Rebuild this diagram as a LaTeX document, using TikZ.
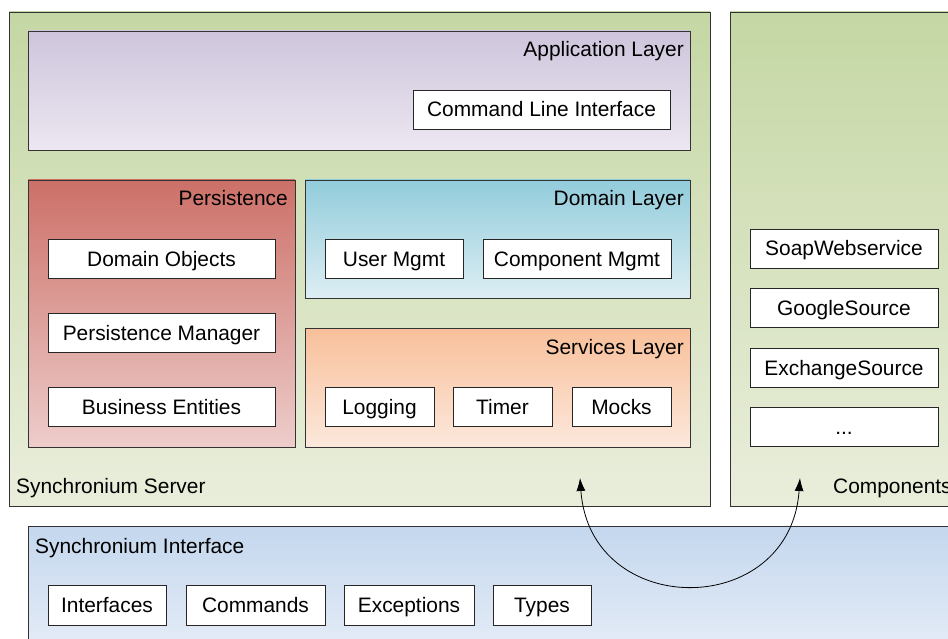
\documentclass[tikz,border=0pt]{standalone}
\usepackage{fontspec}
\setmainfont{Liberation Sans}
\usetikzlibrary{arrows.meta}

\definecolor{grnTop}{HTML}{C5D7A4}
\definecolor{grnBot}{HTML}{E9EEDB}
\definecolor{purTop}{HTML}{CEC5DC}
\definecolor{purBot}{HTML}{ECE7F1}
\definecolor{redTop}{HTML}{CC7068}
\definecolor{redBot}{HTML}{EDCDCB}
\definecolor{cyaTop}{HTML}{92CCDB}
\definecolor{cyaBot}{HTML}{DDEEF4}
\definecolor{orgTop}{HTML}{F8C09A}
\definecolor{orgBot}{HTML}{FCE8DC}
\definecolor{bluTop}{HTML}{C4D7EE}
\definecolor{bluBot}{HTML}{E9EFF8}

\begin{document}
\begin{tikzpicture}[x=1pt, y=-1pt,
  every node/.style={font=\fontsize{20.9}{24}\selectfont},
  panel/.style={draw=black!80, line width=0.9pt, anchor=north west,
    inner sep=0pt, outer sep=0pt},
  item/.style={draw=black!85, fill=white, line width=0.9pt, anchor=north west,
    inner sep=0pt, outer sep=0pt, minimum height=39pt,
    text height=17pt, text depth=2pt},
  title/.style={anchor=base east, inner sep=0pt},
  caption/.style={anchor=base west, inner sep=0pt},
  link/.style={line width=0.8pt, {Latex[length=13pt,width=9pt]}-{Latex[length=13pt,width=9pt]}}
]
\clip (0,0) rectangle (948,639);
\fill[white] (0,0) rectangle (948,639);

% outer containers
\node[panel, top color=grnTop, bottom color=grnBot, minimum width=701pt, minimum height=494pt] (server) at (9,12) {};
\node[panel, top color=grnTop, bottom color=grnBot, minimum width=240pt, minimum height=494pt] (comps) at (730,12) {};
\node[panel, top color=bluTop, bottom color=bluBot, minimum width=940pt, minimum height=140pt] (iface) at (28,526) {};

% application layer
\node[panel, top color=purTop, bottom color=purBot, minimum width=662pt, minimum height=119pt] (app) at (28,31) {};
\node[title] (appT) at (684,57) {Application Layer};
\node[item, minimum width=257pt] (cli) at (413,90) {Command Line Interface};

% persistence
\node[panel, top color=redTop, bottom color=redBot, minimum width=267pt, minimum height=267pt] (pers) at (28,180) {};
\node[title] (persT) at (288,206) {Persistence};
\node[item, minimum width=227pt] (dobj) at (48,239) {Domain Objects};
\node[item, minimum width=227pt] (pmgr) at (48,313) {Persistence Manager};
\node[item, minimum width=227pt] (bent) at (48,387) {Business Entities};

% domain layer
\node[panel, top color=cyaTop, bottom color=cyaBot, minimum width=385pt, minimum height=118pt] (dom) at (305,180) {};
\node[title] (domT) at (684,206) {Domain Layer};
\node[item, minimum width=138pt] (umgmt) at (325,239) {User Mgmt};
\node[item, minimum width=188pt] (cmgmt) at (483,239) {Component Mgmt};

% services layer
\node[panel, top color=orgTop, bottom color=orgBot, minimum width=385pt, minimum height=119pt] (svc) at (305,328) {};
\node[title] (svcT) at (684,354) {Services Layer};
\node[item, minimum width=109pt] (log) at (325,387) {Logging};
\node[item, minimum width=99pt] (tmr) at (453,387) {Timer};
\node[item, minimum width=99pt] (mck) at (572,387) {Mocks};

% components
\node[item, minimum width=188pt] (soap) at (750,229) {SoapWebservice};
\node[item, minimum width=188pt] (goog) at (750,288) {GoogleSource};
\node[item, minimum width=188pt] (exch) at (750,348) {ExchangeSource};
\node[item, minimum width=188pt] (more) at (750,407) {...};

% interface items
\node[item, minimum width=118pt, minimum height=40pt] (ifc) at (48,585) {Interfaces};
\node[item, minimum width=139pt, minimum height=40pt] (cmd) at (186,585) {Commands};
\node[item, minimum width=130pt, minimum height=40pt] (exc) at (344,585) {Exceptions};
\node[item, minimum width=98pt, minimum height=40pt] (typ) at (493,585) {Types};

% captions
\node[caption] (serverT) at (16,493) {Synchronium Server};
\node[caption] (compsT) at (833,493) {Components};
\node[caption] (ifaceT) at (35,553) {Synchronium Interface};

% dependency link through the interface
\coordinate (srvEnd) at (580,478);
\coordinate (cmpEnd) at (800,478);
\draw[link] (srvEnd) .. controls (590,620) and (790,620) .. (cmpEnd);
\end{tikzpicture}
\end{document}
